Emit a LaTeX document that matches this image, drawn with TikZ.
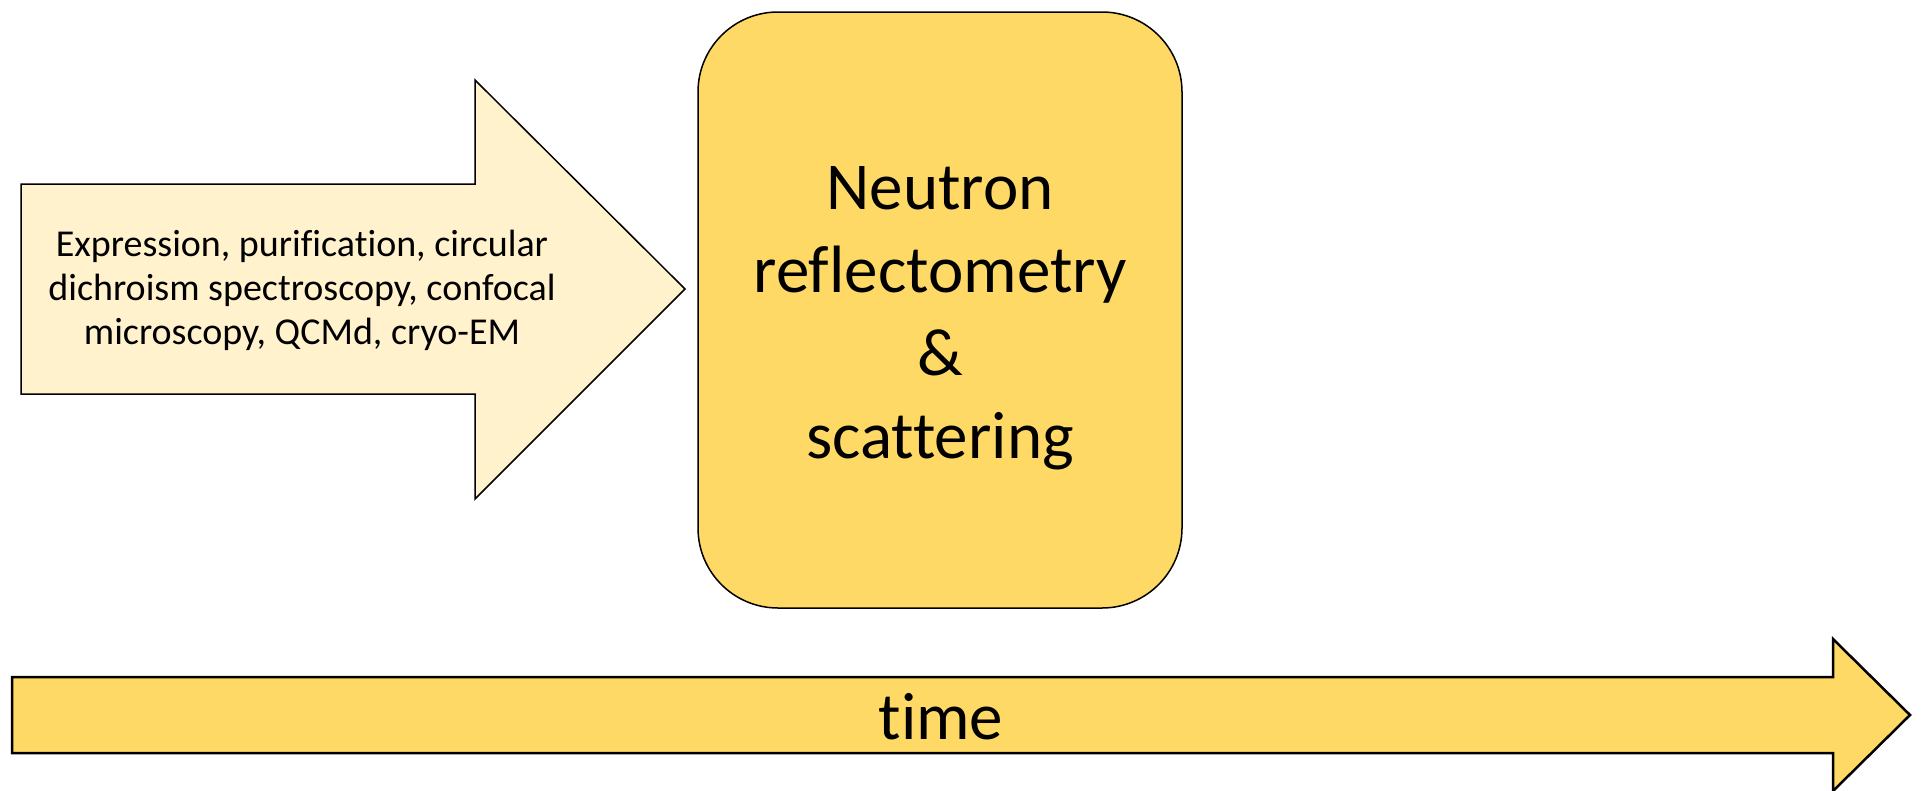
\documentclass[tikz,border=0pt]{standalone}
\usepackage{fontspec}
\setmainfont[Ligatures=CommonOff]{Carlito}
\definecolor{palegold}{HTML}{FFF2CC}
\definecolor{gold}{HTML}{FFD966}
\begin{document}
\begin{tikzpicture}[
x=1pt, y=-1pt,
outline/.style={draw=black, line width=1.5pt, line join=miter},
bigtext/.style={align=center, font=\fontsize{67}{83}\selectfont}
]
\useasboundingbox (0,0) rectangle (1921,790);
\draw[outline, fill=palegold] (21,184) -- (475,184) -- (475,80) -- (685,289)
    -- (475,499) -- (475,394) -- (21,394) -- cycle;
\node[align=center, font=\fontsize{38}{44}\selectfont] (methods) at (302,290)
    {Expression, purification, circular\\dichroism spectroscopy, confocal\\microscopy, QCMd, cryo-EM};
\node[outline, fill=gold, rounded corners=80pt, minimum width=484pt,
    minimum height=596pt, bigtext] (neutron) at (940,310) {};
\node[bigtext] (neutrontext) at (940,318) {Neutron\\reflectometry\\\&\\scattering};
\draw[outline, line width=2.5pt, fill=gold] (12,677) -- (1833,677) -- (1833,639)
    -- (1910,715) -- (1833,791) -- (1833,753) -- (12,753) -- cycle;
\node[bigtext] (time) at (941,717) {time};
\end{tikzpicture}
\end{document}
